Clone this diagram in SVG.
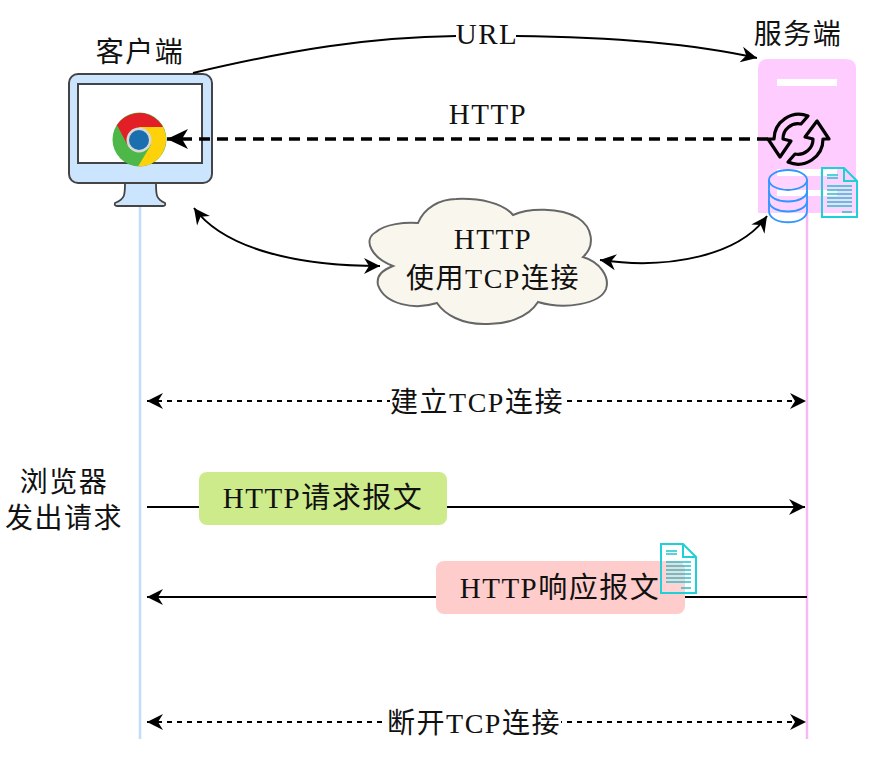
<svg xmlns="http://www.w3.org/2000/svg" width="872" height="763" viewBox="0 0 872 763">
<style>
text{font-family:"Liberation Serif","Noto Sans CJK SC",serif;font-size:29px;fill:#111;text-anchor:middle;letter-spacing:1.5px}
.s{font-size:28px}
.c{fill:none;stroke:#000;stroke-width:2}
.d{fill:none;stroke:#000;stroke-width:2;stroke-dasharray:5 5}
.doc{fill:#fff;fill-opacity:.15;stroke:#1fd0d8;stroke-width:2}
.l{stroke:#1fc4cc;stroke-width:1.5}
</style>
<defs>
<marker id="a" markerUnits="userSpaceOnUse" markerWidth="20" markerHeight="20" refX="17" refY="10" orient="auto-start-reverse"><path d="M1 2L17 10L1 18L6 10Z" fill="#000"/></marker>
<marker id="b" markerUnits="userSpaceOnUse" markerWidth="24" markerHeight="24" refX="22" refY="12" orient="auto"><path d="M1 2L22 12L1 22L7 12Z" fill="#000"/></marker>
<g id="docicon"><path class="doc" d="M1 1H23L36 14V50H1Z M23 1V14H36"/><path class="l" d="M6 8H17M6 11H17M6 19H31M6 23H31M6 27H31M6 31H31M6 35H31M6 39H31M21 45H31"/></g>
</defs>
<g id="lifelines">
<line x1="140" y1="206" x2="140" y2="739" stroke="#c4dcfb" stroke-width="2.500"/>
<line x1="807" y1="213" x2="807" y2="739" stroke="#f8b8f8" stroke-width="2.500"/>
</g>
<g id="client">
<text class="s" x="140" y="62">客户端</text>
<path d="M125 183C125 195 125 199 115 203Q114 206 117 206H163Q166 206 165 203C156 199 156 195 156 183Z" fill="#cce5ff" stroke="#444" stroke-width="1.800"/>
<rect x="69" y="74" width="143" height="109" rx="9" fill="#cce5ff" stroke="#444" stroke-width="2"/>
<rect x="78" y="84" width="124" height="79" fill="#fff" stroke="#444" stroke-width="2"/>
<g id="chrome">
<circle cx="139.500" cy="139.500" r="27" fill="#4db848"/>
<path d="M117 125A27 27 0 0 1 163 127L139 127L128 146Z" fill="#e21e26"/>
<path d="M163 127A27 27 0 0 1 138 166.500L151 145L139 127Z" fill="#fdd20a"/>
<circle cx="139" cy="140" r="12.500" fill="#d9d9d9"/>
<circle cx="139" cy="140" r="10" fill="#1b6fae"/>
</g>
</g>
<g id="server">
<text class="s" x="798" y="44">服务端</text>
<path d="M758 213V69Q758 59 768 59H846Q856 59 856 69V213Z" fill="#ffccff"/>
<rect x="777" y="79" width="60" height="7" fill="#fff"/>
<rect x="777" y="169" width="60" height="7" fill="#fff"/>
<rect x="777" y="190" width="60" height="6" fill="#fff"/>
</g>
<g id="connectors">
<path class="c" d="M193 73C290 50 370 37 456 36" />
<path class="c" d="M516 36C610 37 690 43 757 58" marker-end="url(#a)"/>
<path d="M768 139H167" fill="none" stroke="#000" stroke-width="3.500" stroke-dasharray="11 7" marker-end="url(#b)"/>
<path class="c" d="M194 208C225 250 300 266 380 266" marker-start="url(#a)" marker-end="url(#a)"/>
<path class="c" d="M767 216C740 255 670 270 600 260" marker-start="url(#a)" marker-end="url(#a)"/>
<path class="d" d="M147 401H806" marker-start="url(#a)" marker-end="url(#a)"/>
<path class="c" d="M147 507H805" marker-end="url(#a)"/>
<path class="c" d="M807 597H147" marker-end="url(#a)"/>
<path class="d" d="M147 722H806" marker-start="url(#a)" marker-end="url(#a)"/>
</g>
<g id="server-icons">
<g id="sync" fill="none" stroke="#000" stroke-width="3.200" stroke-linejoin="round">
<path d="M808 116A25 25 0 0 0 774 139L768 139L780 157L791 141L783 139A15 15 0 0 1 801 124Z"/>
<path d="M788 162A25 25 0 0 0 823 139L829 139L817 121L805 137L813 139A15 15 0 0 1 795 154Z"/>
</g>
<g id="db" fill="#fff" fill-opacity=".1" stroke="#2f95ff" stroke-width="1.800">
<path d="M769 180V211C769 226 807 226 807 211V180"/>
<ellipse cx="788" cy="180" rx="19" ry="10"/>
<path d="M769 191C769 205 807 205 807 191M769 201C769 215 807 215 807 201" fill="none"/>
</g>
<use href="#docicon" x="821" y="167"/>
</g>
<text x="487" y="44">URL</text>
<text x="488" y="124">HTTP</text>
<g id="cloud">
<path d="M418 223C424 208 440 199 456 199C480 198 503 203 513 215C528 208 560 207 578 218C592 227 596 245 583 257C600 262 610 277 606 289C600 304 565 310 538 302C528 318 505 325 484 324C462 324 445 315 437 303C415 310 385 305 378 285C376 275 383 270 393 266C372 258 362 240 376 232C385 224 405 222 418 223Z" fill="#f9f7ed" stroke="#666" stroke-width="2"/>
<text x="493" y="249">HTTP</text>
<text class="s" x="493" y="288">使用TCP连接</text>
</g>
<g id="m1"><rect x="390" y="388" width="174" height="28" fill="#fff"/><text class="s" x="477" y="412">建立TCP连接</text></g>
<g id="m2"><rect x="199" y="472" width="248" height="53" rx="8" fill="#cdeb8b"/><text x="323" y="508">HTTP请求报文</text></g>
<g id="m3"><rect x="436" y="561" width="249" height="53" rx="8" fill="#ffcccc"/><text x="560" y="598">HTTP响应报文</text><use href="#docicon" x="660" y="543"/></g>
<g id="m4"><rect x="387" y="710" width="174" height="28" fill="#fff"/><text class="s" x="474" y="733">断开TCP连接</text></g>
<g id="note"><text class="s" x="64" y="492">浏览器</text><text class="s" x="64" y="528">发出请求</text></g>
</svg>
